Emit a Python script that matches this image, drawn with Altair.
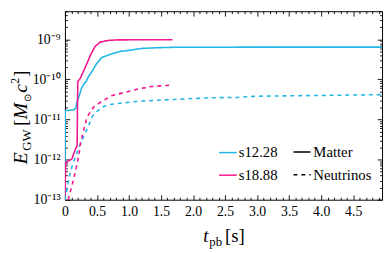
import altair as alt
import pandas as pd

# ---------------- data ----------------
models = ["s12.28", "s18.88"]
components = ["Matter", "Neutrinos"]
model_colors = ["#22b6e6", "#f41690"]

t_s12_matter = [0.0, 0.005, 0.14, 0.17, 0.19, 0.22, 0.26, 0.31, 0.33, 0.37, 0.42,
                0.49, 0.57, 0.68, 0.76, 0.87, 0.99, 1.19, 1.45, 1.72, 2.5, 3.5, 4.95]
E_s12_matter = [1.0e-13, 1.66e-11, 1.74e-11, 1.95e-11, 2.82e-11, 3.8e-11, 6.03e-11,
                8.3e-11, 8.7e-11, 1.2e-10, 1.55e-10, 2.4e-10, 3.47e-10, 4.07e-10,
                4.47e-10, 5.01e-10, 5.25e-10, 5.89e-10, 6.17e-10, 6.31e-10, 6.35e-10,
                6.37e-10, 6.37e-10]

t_s18_matter = [0.0, 0.01, 0.06, 0.11, 0.16, 0.19, 0.20, 0.24, 0.28, 0.32, 0.36,
                0.40, 0.47, 0.55, 0.68, 0.83, 1.2, 1.68]
E_s18_matter = [1.0e-13, 8.5e-13, 9.3e-13, 1.05e-12, 1.78e-12, 2.19e-12, 8.7e-11,
                1.07e-10, 1.48e-10, 2.04e-10, 2.88e-10, 4.07e-10, 6.61e-10, 8.51e-10,
                9.4e-10, 9.65e-10, 9.7e-10, 9.72e-10]

t_s12_nu = [0.0, 0.036, 0.062, 0.113, 0.165, 0.216, 0.294, 0.371, 0.42, 0.50, 0.577,
            0.68, 0.94, 1.195, 1.45, 1.71, 2.23, 2.69, 3.0, 3.5, 4.0, 4.5, 4.95]
E_s12_nu = [1.0e-13, 2.0e-13, 3.47e-13, 6.92e-13, 1.17e-12, 2.0e-12, 3.8e-12,
            7.08e-12, 1.15e-11, 1.58e-11, 2.0e-11, 2.34e-11, 2.63e-11, 2.88e-11,
            3.02e-11, 3.16e-11, 3.47e-11, 3.55e-11, 3.8e-11, 3.89e-11, 3.98e-11,
            4.07e-11, 4.17e-11]

t_s18_nu = [0.05, 0.113, 0.165, 0.216, 0.243, 0.294, 0.345, 0.40, 0.448, 0.572,
            0.726, 0.943, 1.144, 1.345, 1.685]
E_s18_nu = [1.0e-13, 2.34e-13, 5.25e-13, 1.23e-12, 2.57e-12, 5.5e-12, 1.15e-11,
            1.58e-11, 2.04e-11, 2.82e-11, 3.89e-11, 4.79e-11, 5.75e-11, 6.61e-11,
            7.24e-11]

x_major = [0.0, 0.5, 1.0, 1.5, 2.0, 2.5, 3.0, 3.5, 4.0, 4.5]
x_major_labels = ["0", "0.5", "1.0", "1.5", "2.0", "2.5", "3.0", "3.5", "4.0", "4.5"]
x_minor = [round(0.1 * i, 1) for i in range(50)]

y_major = [1e-13, 1e-12, 1e-11, 1e-10, 1e-9]
y_major_labels = ["10⁻¹³", "10⁻¹²", "10⁻¹¹", "10⁻¹⁰", "10⁻⁹"]
y_minor = [m * d for d in y_major for m in range(1, 10) if m * d <= 5e-9]

# ---------------- table ----------------
frames = []
for model, comp, ts, es in [
    ("s12.28", "Matter", t_s12_matter, E_s12_matter),
    ("s18.88", "Matter", t_s18_matter, E_s18_matter),
    ("s12.28", "Neutrinos", t_s12_nu, E_s12_nu),
    ("s18.88", "Neutrinos", t_s18_nu, E_s18_nu),
]:
    frames.append(pd.DataFrame({"model": model, "component": comp, "t": ts, "E": es}))
df = pd.concat(frames, ignore_index=True)

FONT = "Liberation Serif"


def label_expr_x():
    expr = "''"
    for v, l in reversed(list(zip(x_major, x_major_labels))):
        expr = f"(abs(datum.value - {v}) < 0.001) ? '{l}' : ({expr})"
    return expr


def label_expr_y():
    expr = "''"
    for v, l in reversed(list(zip(y_major, y_major_labels))):
        expr = f"(abs(datum.value / {v!r} - 1) < 0.001) ? '{l}' : ({expr})"
    return expr


X_MAJOR_TEST = "abs(datum.value*2 - round(datum.value*2)) < 0.001"
Y_MAJOR_TEST = "abs(datum.value / pow(10, round(log(datum.value)/LN10)) - 1) < 0.001"

x_tick_size = {"condition": {"test": X_MAJOR_TEST, "value": -5}, "value": -2.5}
y_tick_size = {"condition": {"test": Y_MAJOR_TEST, "value": -5}, "value": -2.5}

x_scale = alt.Scale(domain=[0, 4.95], nice=False, zero=False)
y_scale = alt.Scale(type="log", domain=[1e-13, 5e-9], nice=False)

color = alt.Color(
    "model:N",
    scale=alt.Scale(domain=models, range=model_colors),
    legend=alt.Legend(
        title=None, orient="none", legendX=156, legendY=134,
        symbolType="stroke", symbolSize=324, symbolStrokeWidth=1.5,
        labelFont=FONT, labelFontSize=15, labelColor="black", labelOffset=1,
        rowPadding=5,
    ),
)
dash = alt.StrokeDash(
    "component:N",
    scale=alt.Scale(domain=components, range=[[1, 0], [4, 4]]),
    legend=alt.Legend(
        title=None, orient="none", legendX=232, legendY=134,
        symbolType="stroke", symbolSize=300, symbolStrokeWidth=1.5,
        symbolStrokeColor="black",
        labelFont=FONT, labelFontSize=15, labelColor="black", labelOffset=2,
        rowPadding=5,
    ),
)

axis_common = dict(grid=False, domain=False, tickColor="black", tickWidth=0.9,
                   labelFont=FONT, labelFontSize=14, labelColor="black", title=None)

lines = alt.Chart(df).mark_line(strokeWidth=1.6, clip=True).encode(
    x=alt.X("t:Q", scale=x_scale,
            axis=alt.Axis(orient="bottom", values=x_minor, labelExpr=label_expr_x(),
                          tickSize=x_tick_size, labelPadding=10, labelFlush=False,
                          **axis_common)),
    y=alt.Y("E:Q", scale=y_scale,
            axis=alt.Axis(orient="left", values=y_minor, labelExpr=label_expr_y(),
                          tickSize=y_tick_size, labelPadding=10, **axis_common)),
    color=color,
    strokeDash=dash,
)

frame_axes = alt.Chart(df).mark_line(opacity=0, clip=True).encode(
    x=alt.X("t:Q", scale=x_scale,
            axis=alt.Axis(orient="top", values=x_minor, labels=False,
                          tickSize=x_tick_size, **axis_common)),
    y=alt.Y("E:Q", scale=y_scale,
            axis=alt.Axis(orient="right", values=y_minor, labels=False,
                          tickSize=y_tick_size, **axis_common)),
    color=color,
    strokeDash=dash,
)

one = pd.DataFrame({"k": [0]})


def txt(s, x, y, size, italic=False, angle=0):
    return alt.Chart(one).mark_text(
        text=s, font=FONT, fontSize=size, fontStyle="italic" if italic else "normal",
        color="black", align="left", baseline="alphabetic", angle=angle,
    ).encode(x=alt.value(x), y=alt.value(y))


# x title  t_pb [s]
x_title = [
    txt("t", 141, 235, 19, italic=True),
    txt("pb", 147, 239, 13),
    txt("[s]", 163, 235, 19),
]
# y title  E_GW [M⊙ c²]  (rotated, reading upward)
BX = -39
y_title = [
    txt("E", BX, 156, 20, italic=True, angle=270),
    txt("GW", BX + 4, 142, 13, angle=270),
    txt("[", BX, 117, 20, angle=270),
    txt("M", BX, 110, 20, italic=True, angle=270),
    txt("⊙", BX + 4, 92, 10, angle=270),
    txt("c", BX, 83, 20, italic=True, angle=270),
    txt("2", BX - 8, 74, 12, angle=270),
    txt("]", BX, 67, 20, angle=270),
]

chart = (
    alt.layer(lines, frame_axes, *x_title, *y_title)
    .resolve_axis(x="independent", y="independent")
    .properties(
        width=323, height=192,
        autosize=alt.AutoSizeParams(type="none"),
        padding={"left": 58, "top": 1, "right": 2, "bottom": 52},
    )
    .configure_view(stroke="black", strokeWidth=1)
)

chart.save("out.html", embed_options={"renderer": "svg", "actions": False})
